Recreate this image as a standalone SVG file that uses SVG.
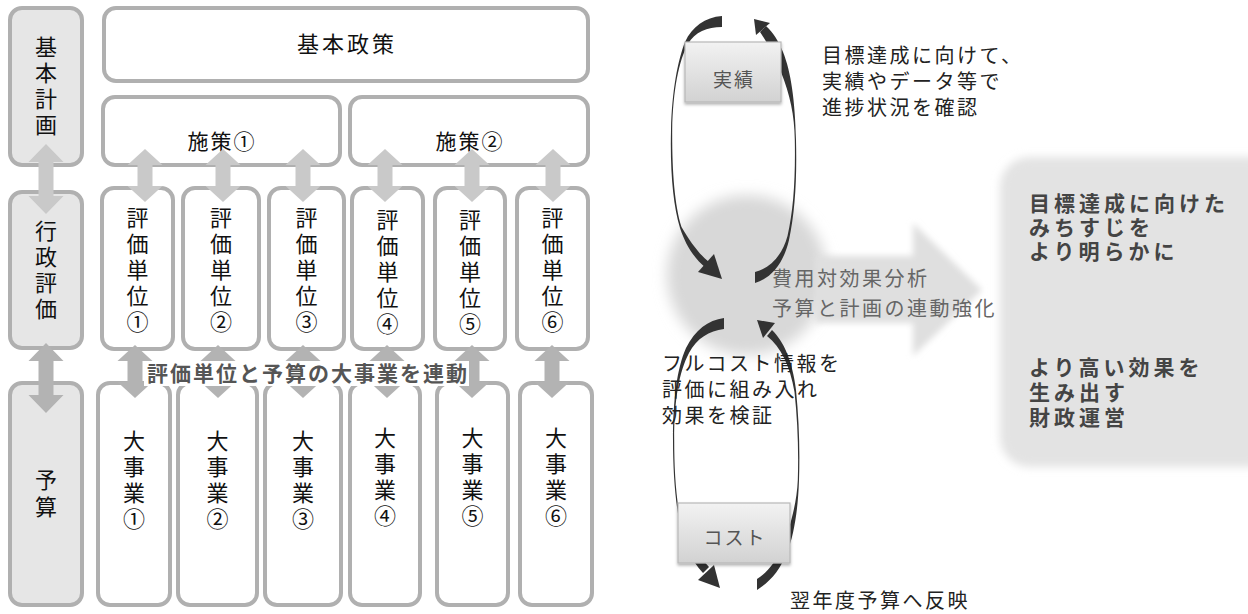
<svg xmlns="http://www.w3.org/2000/svg" xmlns:xlink="http://www.w3.org/1999/xlink" width="1248" height="614" viewBox="0 0 1248 614">
<style>
text{font-family:"Noto Sans CJK JP","Noto Sans",sans-serif;}
.bx{fill:#fff;stroke:#b0b0b0;stroke-width:4;}
.bxg{fill:#e6e6e6;stroke:#b0b0b0;stroke-width:4;}
.vt{font-size:22px;fill:#111;text-anchor:middle;}
.ht{font-size:21px;fill:#111;text-anchor:middle;letter-spacing:2px;}
.lbl{font-size:21px;font-weight:bold;fill:#555;letter-spacing:2px;}
.rt{font-size:20px;fill:#222;letter-spacing:2.5px;}
.gt{font-size:20px;fill:#666;letter-spacing:2.5px;}
.bt{font-size:21px;font-weight:bold;fill:#444;letter-spacing:4px;}
.bl{font-size:19px;fill:#555;text-anchor:middle;letter-spacing:2px;}
.aL{fill:#c9c9c9;}
.aD{fill:#b3b3b3;}
.arc{fill:#333;}
.sbox{fill:url(#gbox);stroke:#b8b8b8;stroke-width:1.2;filter:url(#sh);}
</style>
<defs>
<path id="dA" d="M0,0 L17.5,16 L7.5,16 L7.5,37 L17.5,37 L0,53 L-17.5,37 L-7.5,37 L-7.5,16 L-17.5,16 Z"/>
<path id="dB" d="M0,0 L17.5,18 L7.5,18 L7.5,52 L17.5,52 L0,70 L-17.5,52 L-7.5,52 L-7.5,18 L-17.5,18 Z"/>
<linearGradient id="gbox" x1="0" y1="0" x2="0" y2="1">
<stop offset="0" stop-color="#f2f2f2"/>
<stop offset="1" stop-color="#d2d2d2"/>
</linearGradient>
<filter id="blurC" x="-40%" y="-40%" width="180%" height="180%"><feGaussianBlur stdDeviation="7"/></filter>
<filter id="blurA" x="-20%" y="-20%" width="140%" height="140%"><feGaussianBlur stdDeviation="3"/></filter>
<filter id="blurB" x="-20%" y="-20%" width="140%" height="140%"><feGaussianBlur stdDeviation="4"/></filter>
<filter id="sh" x="-20%" y="-20%" width="140%" height="150%"><feDropShadow dx="0" dy="2" stdDeviation="1.5" flood-color="#000" flood-opacity="0.3"/></filter>
</defs>

<g id="result-box">
<rect x="1000" y="157" width="280" height="310" rx="30" fill="#e3e3e3" filter="url(#blurB)"/>
<text class="bt" x="1029" y="211">目標達成に向けた</text>
<text class="bt" x="1029" y="235">みちすじを</text>
<text class="bt" x="1029" y="259">より明らかに</text>
<text class="bt" x="1029" y="375">より高い効果を</text>
<text class="bt" x="1029" y="400">生み出す</text>
<text class="bt" x="1029" y="425">財政運営</text>
</g>
<g id="hub">
<circle cx="747" cy="275" r="80" fill="#d8d8d8" filter="url(#blurC)"/>
</g>
<g id="big-arrow">
<path d="M815,256 L913,256 L913,223 L982,290 L913,356 L913,323 L815,323 Z" fill="#dfdfdf" filter="url(#blurA)"/>
<text class="gt" x="772" y="286">費用対効果分析</text>
<text class="gt" x="772" y="316">予算と計画の連動強化</text>
</g>

<g id="kihonkeikaku">
<rect class="bxg" x="10" y="8" width="72" height="157" rx="12"/>
<text class="vt"><tspan x="46" y="55">基</tspan><tspan x="46" y="81">本</tspan><tspan x="46" y="107">計</tspan><tspan x="46" y="133">画</tspan></text>
</g>
<g id="gyoseihyoka">
<rect class="bxg" x="10" y="192" width="72" height="156" rx="12"/>
<text class="vt"><tspan x="46" y="239">行</tspan><tspan x="46" y="265">政</tspan><tspan x="46" y="291">評</tspan><tspan x="46" y="317">価</tspan></text>
</g>
<g id="yosan">
<rect class="bxg" x="10" y="383" width="72" height="222" rx="12"/>
<text class="vt"><tspan x="46" y="488">予</tspan><tspan x="46" y="515">算</tspan></text>
</g>

<g id="kihonseisaku">
<rect class="bx" x="104" y="8" width="484" height="73" rx="12"/>
<text class="ht" x="347" y="52" style="font-size:22px;letter-spacing:3px">基本政策</text>
</g>
<g id="shisaku1">
<rect class="bx" x="103" y="97" width="237" height="68" rx="12"/>
<text class="ht" x="222" y="149">施策①</text>
</g>
<g id="shisaku2">
<rect class="bx" x="350" y="97" width="238" height="68" rx="12"/>
<text class="ht" x="470" y="149">施策②</text>
</g>

<g id="hyoka1">
<rect class="bx" x="102" y="188" width="71" height="161" rx="12"/>
<text class="vt"><tspan x="137.5" y="226">評</tspan><tspan x="137.5" y="252">価</tspan><tspan x="137.5" y="278">単</tspan><tspan x="137.5" y="304">位</tspan><tspan x="137.5" y="330">①</tspan></text>
</g>
<g id="hyoka2">
<rect class="bx" x="183" y="188" width="76" height="161" rx="12"/>
<text class="vt"><tspan x="221" y="226">評</tspan><tspan x="221" y="252">価</tspan><tspan x="221" y="278">単</tspan><tspan x="221" y="304">位</tspan><tspan x="221" y="330">②</tspan></text>
</g>
<g id="hyoka3">
<rect class="bx" x="269" y="188" width="75" height="161" rx="12"/>
<text class="vt"><tspan x="306.5" y="226">評</tspan><tspan x="306.5" y="252">価</tspan><tspan x="306.5" y="278">単</tspan><tspan x="306.5" y="304">位</tspan><tspan x="306.5" y="330">③</tspan></text>
</g>
<g id="hyoka4">
<rect class="bx" x="352" y="188" width="71" height="161" rx="12"/>
<text class="vt"><tspan x="387.5" y="228">評</tspan><tspan x="387.5" y="254">価</tspan><tspan x="387.5" y="280">単</tspan><tspan x="387.5" y="306">位</tspan><tspan x="387.5" y="332">④</tspan></text>
</g>
<g id="hyoka5">
<rect class="bx" x="435" y="188" width="70" height="161" rx="12"/>
<text class="vt"><tspan x="470" y="228">評</tspan><tspan x="470" y="254">価</tspan><tspan x="470" y="280">単</tspan><tspan x="470" y="306">位</tspan><tspan x="470" y="332">⑤</tspan></text>
</g>
<g id="hyoka6">
<rect class="bx" x="517" y="188" width="71" height="161" rx="12"/>
<text class="vt"><tspan x="552.5" y="226">評</tspan><tspan x="552.5" y="252">価</tspan><tspan x="552.5" y="278">単</tspan><tspan x="552.5" y="304">位</tspan><tspan x="552.5" y="330">⑥</tspan></text>
</g>

<g id="daijigyo1">
<rect class="bx" x="98" y="383" width="72" height="222" rx="12"/>
<text class="vt"><tspan x="134" y="449">大</tspan><tspan x="134" y="475">事</tspan><tspan x="134" y="501">業</tspan><tspan x="134" y="527">①</tspan></text>
</g>
<g id="daijigyo2">
<rect class="bx" x="178" y="383" width="79" height="222" rx="12"/>
<text class="vt"><tspan x="217.5" y="449">大</tspan><tspan x="217.5" y="475">事</tspan><tspan x="217.5" y="501">業</tspan><tspan x="217.5" y="527">②</tspan></text>
</g>
<g id="daijigyo3">
<rect class="bx" x="265" y="383" width="76" height="222" rx="12"/>
<text class="vt"><tspan x="303" y="449">大</tspan><tspan x="303" y="475">事</tspan><tspan x="303" y="501">業</tspan><tspan x="303" y="527">③</tspan></text>
</g>
<g id="daijigyo4">
<rect class="bx" x="350" y="383" width="70" height="222" rx="12"/>
<text class="vt"><tspan x="385" y="446">大</tspan><tspan x="385" y="472">事</tspan><tspan x="385" y="498">業</tspan><tspan x="385" y="524">④</tspan></text>
</g>
<g id="daijigyo5">
<rect class="bx" x="437" y="383" width="71" height="222" rx="12"/>
<text class="vt"><tspan x="472.5" y="446">大</tspan><tspan x="472.5" y="472">事</tspan><tspan x="472.5" y="498">業</tspan><tspan x="472.5" y="524">⑤</tspan></text>
</g>
<g id="daijigyo6">
<rect class="bx" x="520" y="383" width="72" height="222" rx="12"/>
<text class="vt"><tspan x="556" y="446">大</tspan><tspan x="556" y="472">事</tspan><tspan x="556" y="498">業</tspan><tspan x="556" y="524">⑥</tspan></text>
</g>

<g id="connectors">
<use href="#dB" x="46" y="144" class="aL"/>
<use href="#dA" x="145" y="149" class="aL"/>
<use href="#dA" x="223" y="149" class="aL"/>
<use href="#dA" x="303" y="149" class="aL"/>
<use href="#dA" x="385" y="149" class="aL"/>
<use href="#dA" x="472" y="149" class="aL"/>
<use href="#dA" x="553" y="149" class="aL"/>
<use href="#dB" x="46" y="343" class="aD"/>
<use href="#dA" x="135" y="345" class="aD"/>
<use href="#dA" x="218" y="345" class="aD"/>
<use href="#dA" x="303" y="345" class="aD"/>
<use href="#dA" x="387" y="345" class="aD"/>
<use href="#dA" x="472" y="345" class="aD"/>
<use href="#dA" x="552" y="345" class="aD"/>
<path class="arc" d="M722,16 C705,17 692,27 685,42 C678,60 672,90 671,130 C670,170 673,205 680,228 C686,246 694,258 706,268 L709,262 C699,254 691,243 681.5,227 C674.5,205 672,170 672.2,130 C673,90 679,60 688,44 C695,32 707,27 722,27 Z"/>
<path class="arc" d="M714,254 L722,279 L698,272 Z"/>
<path class="arc" d="M755,283 C772,278 784,262 789,240 C795,212 797,180 796,140 C795,100 791,72 783,52 C779,42 773,32 766,26 L760,32 C768,44 776,58 781,72 C790,95 794.5,115 794.8,140 C795.5,178 793.5,210 787.5,236 C782,256 770,268 755,272 Z"/>
<path class="arc" d="M770,23 L754,19 L756,35 Z"/>
<path class="arc" d="M724,318 C708,320 695,330 686,348 C677,368 673,400 673,440 C673,470 675,500 680,525 C684,545 691,560 703,573 L709,567 C698,555 691,541 681.5,525 C676,500 674.2,470 674.2,440 C674.2,400 679,372 689,353 C697,338 709,331 724,329 Z"/>
<path class="arc" d="M714,565 L720,588 L698,580 Z"/>
<path class="arc" d="M772,330 C784,342 792,360 796,390 C799,420 800,450 799,480 C798,510 794,535 787,553 C780,570 770,582 757,590 L757,579 C768,572 776,561 782,548 C789,530 796.8,505 797.8,480 C798.8,450 797.5,420 794.5,392 C790,366 781,347 767,336 Z"/>
<path class="arc" d="M775,323 L757,320 L763,338 Z"/>
</g>

<g id="label-link">
<rect x="144" y="361" width="325" height="25" fill="#fff"/>
<text class="lbl" x="147" y="381">評価単位と予算の大事業を連動</text>
</g>

<g id="jisseki">
<rect class="sbox" x="685" y="42" width="96" height="60"/>
<text class="bl" x="734" y="87">実績</text>
</g>
<g id="cost">
<rect class="sbox" x="678" y="503" width="112" height="60"/>
<text class="bl" x="735" y="545">コスト</text>
</g>

<g id="notes">
<text class="rt" x="822" y="63">目標達成に向けて、</text>
<text class="rt" x="822" y="89">実績やデータ等で</text>
<text class="rt" x="822" y="115">進捗状況を確認</text>
<text class="rt" x="662" y="371">フルコスト情報を</text>
<text class="rt" x="662" y="397">評価に組み入れ</text>
<text class="rt" x="662" y="423">効果を検証</text>
<text class="rt" x="790" y="608">翌年度予算へ反映</text>
</g>
</svg>
